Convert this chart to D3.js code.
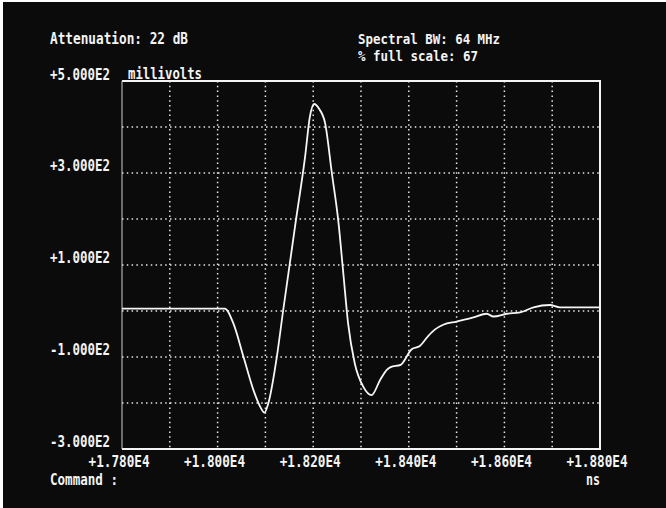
<!DOCTYPE html>
<html>
<head>
<meta charset="utf-8">
<script src="https://cdn.jsdelivr.net/npm/d3@7"></script>
<style>
html,body{margin:0;padding:0;background:#fff;}
svg{display:block;}
text{font-family:"DejaVu Sans Mono","Liberation Mono",monospace;font-weight:bold;fill:#f4f4f4;}
</style>
</head>
<body>
<script>
// Data: time (ns) and amplitude (millivolts)
const times = [
  17800, 18015, 18033, 18054, 18075, 18089, 18098, 18106, 18124, 18137,
  18163, 18183, 18193, 18202, 18212, 18225, 18239, 18253, 18263, 18273,
  18287, 18305, 18322, 18340, 18354, 18362, 18383, 18406, 18423, 18440,
  18455, 18472, 18500, 18535, 18563, 18577, 18605, 18633, 18661, 18695,
  18716, 18800];
const millivolts = [
  5, 5, -27, -99, -172, -208, -221, -201, -99, 0,
  191, 335, 422, 450, 440, 408, 300, 191, 82, -27,
  -114, -165, -183, -150, -128, -122, -117, -83, -76, -55,
  -40, -30, -23, -14, -6, -12, -6, -3, 8, 13,
  8, 8];
const yTickValues = [500,300,100,-100,-300];
const yTickLabels = ["+5.000E2","+3.000E2","+1.000E2","-1.000E2","-3.000E2"];
const xTickValues = [17800,18000,18200,18400,18600,18800];
const xTickLabels = ["+1.780E4","+1.800E4","+1.820E4","+1.840E4","+1.860E4","+1.880E4"];
const gridX = d3.range(17800, 18801, 100);
const gridY = d3.range(-300, 501, 100);

const W = 666, H = 508;
const L = 122, R = 600, T = 81, B = 449;

const svg = d3.select("body").append("svg").attr("width", W).attr("height", H);
svg.append("rect").attr("width", W).attr("height", H).attr("fill", "#fff");
svg.append("rect").attr("x", 3).attr("y", 2).attr("width", W - 3).attr("height", H - 2).attr("fill", "#0b0b0b");

const x = d3.scaleLinear().domain([17800, 18800]).range([L, R]);
const y = d3.scaleLinear().domain([-300, 500]).range([B, T]);

// grid
const g = svg.append("g");
g.selectAll("line.gx").data(gridX.slice(1, -1)).enter().append("line")
  .attr("x1", d => x(d)).attr("x2", d => x(d)).attr("y1", T).attr("y2", B)
  .attr("stroke", "#e8e8e8").attr("stroke-width", 1.5).attr("stroke-dasharray", "1.5,3.3");
g.selectAll("line.gy").data(gridY.slice(1, -1)).enter().append("line")
  .attr("y1", d => y(d)).attr("y2", d => y(d)).attr("x1", L).attr("x2", R)
  .attr("stroke", "#e8e8e8").attr("stroke-width", 1.5).attr("stroke-dasharray", "1.5,3.3");

// frame
svg.append("line").attr("x1", L).attr("x2", R).attr("y1", T).attr("y2", T).attr("stroke", "#f4f4f4").attr("stroke-width", 2);
svg.append("line").attr("x1", L).attr("x2", R + 1).attr("y1", B).attr("y2", B).attr("stroke", "#f4f4f4").attr("stroke-width", 2);
svg.append("line").attr("x1", R).attr("x2", R).attr("y1", T - 1).attr("y2", B).attr("stroke", "#f4f4f4").attr("stroke-width", 2);
svg.append("line").attr("x1", L).attr("x2", L).attr("y1", T).attr("y2", B).attr("stroke", "#cfcfcf").attr("stroke-width", 1);

// trace
const data = times.map((t, i) => [t, millivolts[i]]);
svg.append("path").datum(data)
  .attr("d", d3.line().x(d => x(d[0])).y(d => y(d[1])).curve(d3.curveMonotoneX))
  .attr("fill", "none").attr("stroke", "#f6f6f6").attr("stroke-width", 1.8);

const FS = 16;
// y labels
svg.selectAll("text.yl").data(yTickValues).enter().append("text")
  .attr("x", 50).attr("y", (d, i) => y(d) - (i === 0 ? 1 : 2))
  .attr("font-size", FS).attr("textLength", 60).attr("lengthAdjust", "spacingAndGlyphs")
  .text((d, i) => yTickLabels[i]);

// x labels
svg.selectAll("text.xl").data(xTickValues).enter().append("text")
  .attr("x", d => x(d) - 3).attr("y", 467).attr("text-anchor", "middle")
  .attr("font-size", FS).attr("textLength", 61).attr("lengthAdjust", "spacingAndGlyphs")
  .text((d, i) => xTickLabels[i]);

// other text
const txt = (s, tx, ty, len, fs) => svg.append("text").attr("x", tx).attr("y", ty).attr("font-size", fs || FS)
  .attr("textLength", len).attr("lengthAdjust", "spacingAndGlyphs").text(s);
txt("Attenuation: 22 dB", 50, 44, 138);
txt("millivolts", 128, 79, 74);
txt("Spectral BW: 64 MHz", 358, 43.5, 142, 14.5);
txt("% full scale: 67", 358, 61, 120, 14.5);
txt("Command :", 50, 485, 68);
txt("ns", 586, 485, 14);
</script>
</body>
</html>
